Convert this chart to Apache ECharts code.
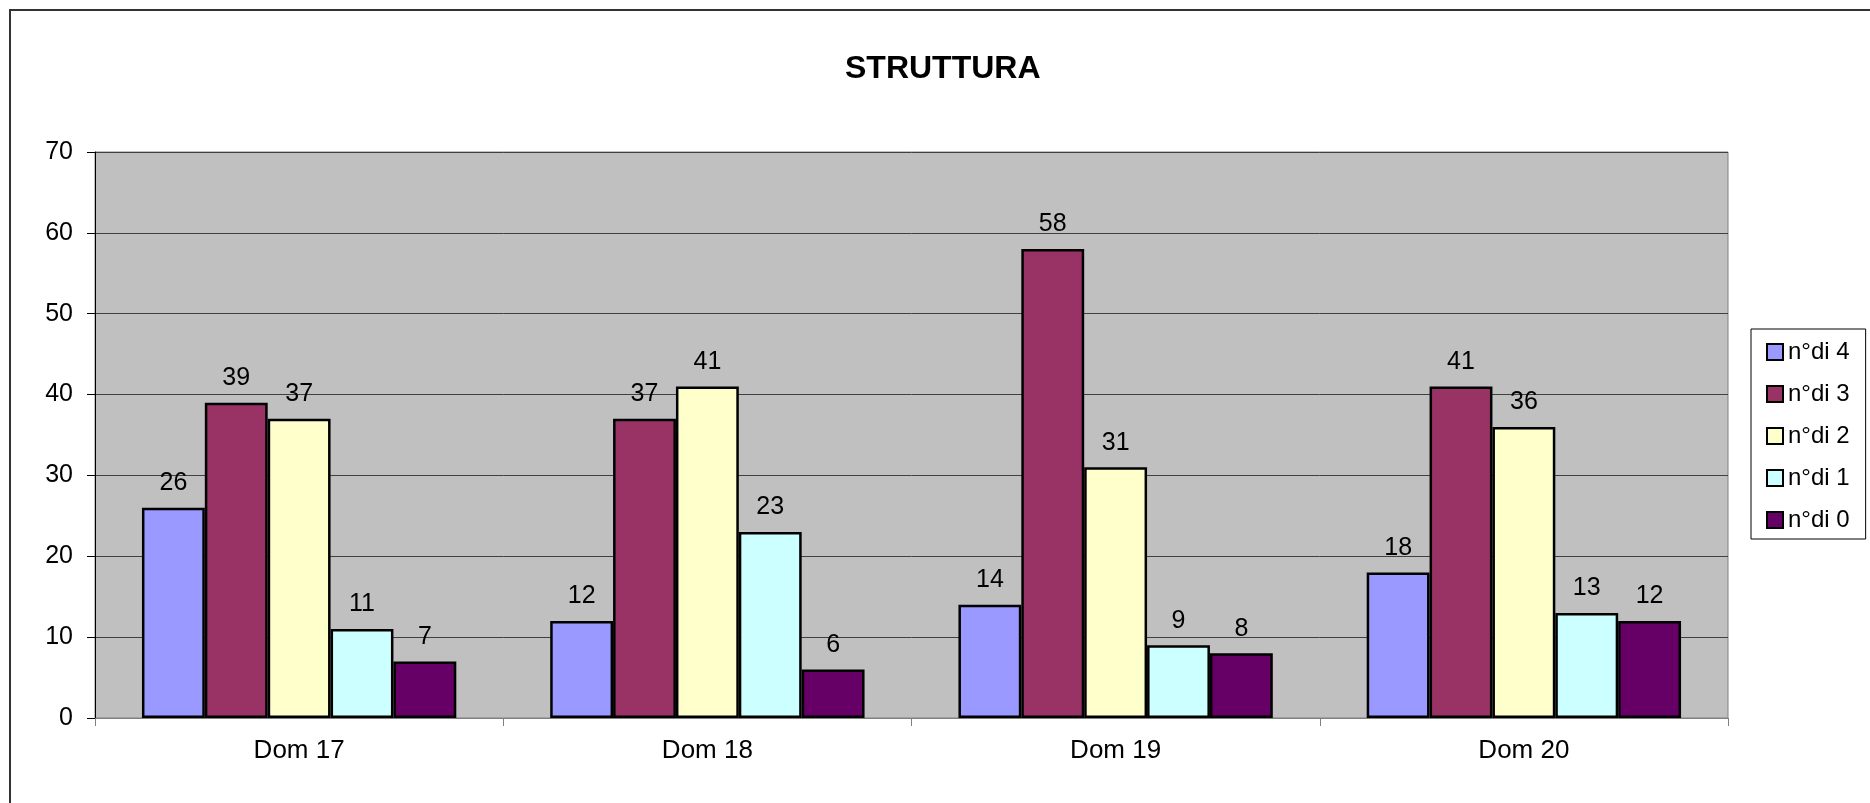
<!DOCTYPE html>
<html>
<head>
<meta charset="utf-8">
<script src="https://cdn.jsdelivr.net/npm/echarts@6/dist/echarts.min.js"></script>
<style>
html,body{margin:0;padding:0;background:#fff;}
#c{width:1870px;height:803px;}
</style>
</head>
<body>
<div id="c"></div>
<script>
const categories = ['Dom 17', 'Dom 18', 'Dom 19', 'Dom 20'];
const seriesNames = ['n°di 4', 'n°di 3', 'n°di 2', 'n°di 1', 'n°di 0'];
const s4 = [26, 12, 14, 18];
const s3 = [39, 37, 58, 41];
const s2 = [37, 41, 31, 36];
const s1 = [11, 23, 9, 13];
const s0 = [7, 6, 8, 12];
const colors = ['#9999FF', '#993366', '#FFFFCC', '#CCFFFF', '#660066'];
const values = [s4, s3, s2, s1, s0];

const FONT = 'Liberation Sans, Arial, sans-serif';
const chart = echarts.init(document.getElementById('c'), null, {renderer: 'canvas'});
chart.setOption({
  animation: false,
  backgroundColor: '#ffffff',
  textStyle: {fontFamily: FONT},
  title: {
    text: 'STRUTTURA',
    left: 840,
    top: 48,
    textStyle: {fontFamily: FONT, fontSize: 32, fontWeight: 'bold', color: '#000'}
  },
  graphic: [{
    type: 'rect',
    shape: {x: 10, y: 10, width: 1900, height: 900},
    style: {fill: 'none', stroke: '#333', lineWidth: 2},
    silent: true
  }],
  legend: {
    orient: 'vertical',
    left: 1751,
    top: 329,
    width: 117,
    padding: [11, 16, 7, 15],
    itemGap: 18,
    itemWidth: 16,
    itemHeight: 16,
    borderColor: '#000',
    borderWidth: 1,
    backgroundColor: '#fff',
    icon: 'rect',
    textStyle: {fontFamily: FONT, fontSize: 24, color: '#000'},
    data: seriesNames
  },
  grid: {
    left: 95, right: 142, top: 152, bottom: 85,
    show: true,
    backgroundColor: '#C0C0C0',
    borderColor: '#808080',
    borderWidth: 1
  },
  xAxis: {
    type: 'category',
    data: categories,
    axisLine: {show: true, lineStyle: {color: '#808080', width: 1}},
    axisTick: {show: true, length: 8, lineStyle: {color: '#808080'}},
    axisLabel: {fontFamily: FONT, fontSize: 26, color: '#000', margin: 20},
    splitLine: {show: false}
  },
  yAxis: {
    type: 'value',
    min: 0, max: 70, interval: 10,
    axisLine: {show: true, lineStyle: {color: '#000', width: 1}},
    axisTick: {show: true, length: 8, lineStyle: {color: '#000'}},
    axisLabel: {fontFamily: FONT, fontSize: 25, color: '#000', margin: 22},
    splitLine: {show: true, lineStyle: {color: '#404040', width: 1}}
  },
  series: seriesNames.map((name, i) => ({
    name: name,
    type: 'bar',
    data: values[i],
    barGap: '0%',
    barCategoryGap: '23%',
    itemStyle: {color: colors[i], borderColor: '#000', borderWidth: 2.5},
    label: {
      show: true,
      position: 'top',
      distance: 12,
      fontFamily: FONT,
      fontSize: 25,
      color: '#000'
    }
  }))
});
</script>
</body>
</html>
